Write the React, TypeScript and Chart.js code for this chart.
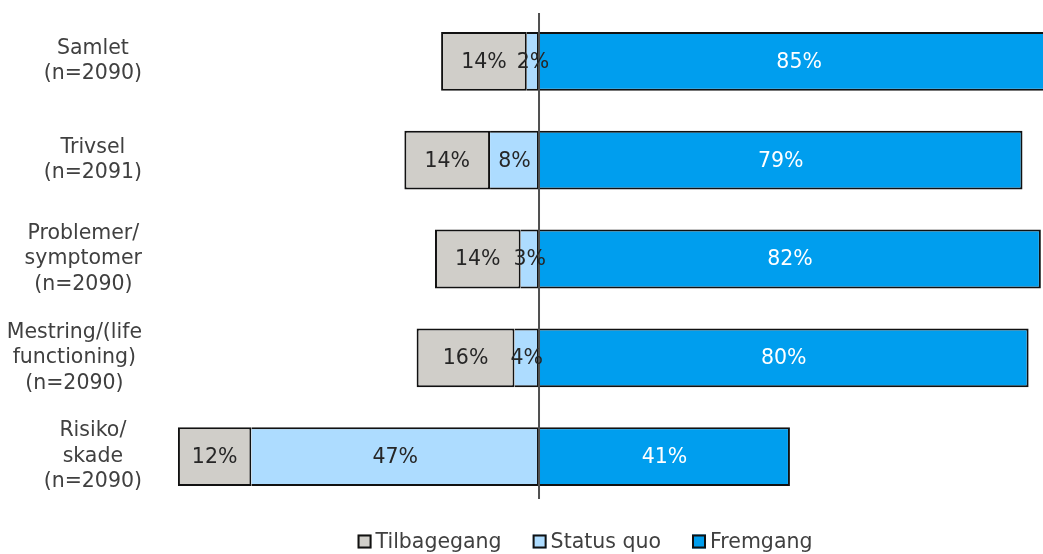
import React, { useEffect, useRef } from "react";
import { Chart, registerables } from "chart.js";

Chart.register(...registerables);

const categories: string[][] = [
  ["Samlet", "(n=2090)"],
  ["Trivsel", "(n=2091)"],
  ["Problemer/", "symptomer", "(n=2090)"],
  ["Mestring/(life", "functioning)", "(n=2090)"],
  ["Risiko/", "skade", "(n=2090)"],
];
const tilbagegang = [14, 14, 14, 16, 12];
const statusQuo = [2, 8, 3, 4, 47];
const fremgang = [85, 79, 82, 80, 41];

const seriesNames = ["Tilbagegang", "Status quo", "Fremgang"];
const seriesColors = ["#D0CEC9", "#ADDCFF", "#009EEE"];
const labelColors = ["#262626", "#262626", "#FFFFFF"];

const FONT = '"DejaVu Sans", Verdana, sans-serif';
const FSIZE = 20.5;

const customPlugin = {
  id: "customDraw",
  afterDatasetsDraw(chart: any) {
    const ctx = chart.ctx;
    const area = chart.chartArea;
    const xScale = chart.scales.x;
    const x0 = xScale.getPixelForValue(0);
    ctx.save();
    ctx.strokeStyle = "#505050";
    ctx.lineWidth = 2;
    ctx.beginPath();
    ctx.moveTo(x0, area.top + 1);
    ctx.lineTo(x0, area.bottom - 7);
    ctx.stroke();
    ctx.restore();

    ctx.save();
    ctx.font = `${FSIZE}px ${FONT}`;
    ctx.textAlign = "center";
    ctx.textBaseline = "middle";
    chart.data.datasets.forEach((ds: any, i: number) => {
      const meta = chart.getDatasetMeta(i);
      meta.data.forEach((bar: any, j: number) => {
        const v = ds.data[j];
        const p = bar.getProps(["x", "y", "base"], true);
        const cx = (p.x + p.base) / 2;
        ctx.fillStyle = ds.labelColor;
        ctx.fillText(Math.abs(v) + "%", cx, p.y + 1);
      });
    });
    ctx.restore();
  },
  afterDraw(chart: any) {
    const ctx = chart.ctx;
    const yScale = chart.scales.y;
    ctx.save();
    ctx.font = `${FSIZE}px ${FONT}`;
    ctx.fillStyle = "#404040";
    ctx.textAlign = "center";
    ctx.textBaseline = "middle";
    const rightEdge = chart.chartArea.left - 18;
    const lineH = 25.5;
    categories.forEach((lines, i) => {
      const cy = yScale.getPixelForValue(i);
      const w = Math.max(...lines.map((l) => ctx.measureText(l).width));
      const cx = rightEdge - w / 2;
      const startY = cy - ((lines.length - 1) * lineH) / 2;
      lines.forEach((l, k) => {
        ctx.fillText(l, cx, startY + k * lineH);
      });
    });

    const box = 14;
    const gapText = 4;
    const gapItem = 31;
    const widths = seriesNames.map((n) => ctx.measureText(n).width);
    const total =
      widths.reduce((a, b) => a + b, 0) + seriesNames.length * (box + gapText) + gapItem * (seriesNames.length - 1);
    const centerX = 585;
    const ly = chart.chartArea.bottom + 35.5;
    let lx = centerX - total / 2;
    ctx.textAlign = "left";
    seriesNames.forEach((n, i) => {
      ctx.fillStyle = seriesColors[i];
      ctx.fillRect(lx, ly - box / 2, box, box);
      ctx.strokeStyle = "#111111";
      ctx.lineWidth = 2;
      ctx.strokeRect(lx + 1, ly - box / 2 + 1, box - 2, box - 2);
      ctx.fillStyle = "#404040";
      ctx.fillText(n, lx + box + gapText, ly + 1);
      lx += box + gapText + widths[i] + gapItem;
    });
    ctx.restore();
  },
};

export default function App() {
  const ref = useRef<HTMLCanvasElement>(null);
  useEffect(() => {
    if (!ref.current) return;
    const chart = new Chart(ref.current, {
      type: "bar",
      data: {
        labels: categories.map((c) => c.join(" ")),
        datasets: [
          {
            label: seriesNames[1],
            data: statusQuo.map((v) => -v),
            backgroundColor: seriesColors[1],
            borderWidth: { top: 2, bottom: 2, left: 0, right: 2 },
            labelColor: labelColors[1],
          } as any,
          {
            label: seriesNames[0],
            data: tilbagegang.map((v) => -v),
            backgroundColor: seriesColors[0],
            borderWidth: { top: 2, bottom: 2, left: 2, right: 2 },
            labelColor: labelColors[0],
          } as any,
          {
            label: seriesNames[2],
            data: fremgang,
            backgroundColor: seriesColors[2],
            borderWidth: { top: 2, bottom: 2, left: 0, right: 2 },
            labelColor: labelColors[2],
          } as any,
        ],
      },
      options: {
        indexAxis: "y",
        responsive: false,
        animation: false,
        devicePixelRatio: 1,
        layout: { padding: { left: 160, right: 0, top: 12, bottom: 48 } },
        datasets: {
          bar: {
            borderColor: "#111111",
            borderSkipped: false,
            inflateAmount: 0,
            categoryPercentage: 1,
            barPercentage: 0.595,
          },
        },
        scales: {
          x: {
            stacked: true,
            display: false,
            min: -61.93,
            max: 82.35,
          },
          y: {
            stacked: true,
            display: false,
          },
        },
        plugins: {
          legend: { display: false },
          tooltip: { enabled: false },
        },
      },
      plugins: [customPlugin],
    });
    return () => chart.destroy();
  }, []);
  return (
    <canvas
      ref={ref}
      width={1043}
      height={554}
      style={{ position: "fixed", left: 0, top: 0, width: 1043, height: 554 }}
    />
  );
}
